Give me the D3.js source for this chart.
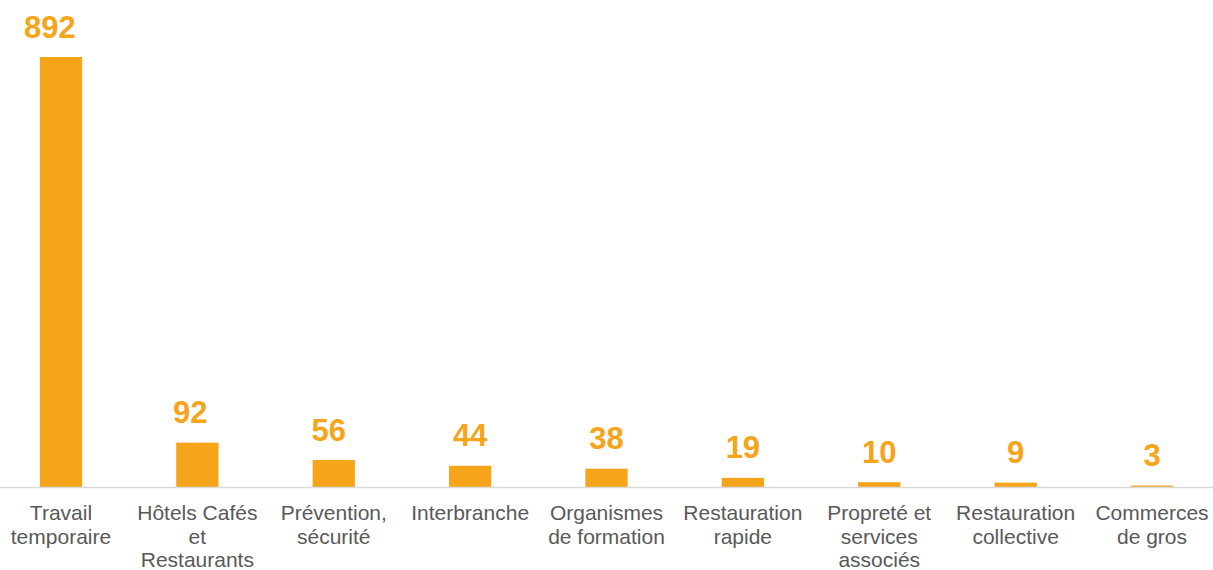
<!DOCTYPE html>
<html>
<head>
<meta charset="utf-8">
<script src="https://cdn.jsdelivr.net/npm/d3@7"></script>
<style>
  html, body { margin: 0; padding: 0; background: #fff; }
  svg { display: block; }
</style>
</head>
<body>
<svg id="chart" width="1213" height="570"></svg>
<script>
const categories = [
  "Travail\ntemporaire",
  "Hôtels Cafés\net\nRestaurants",
  "Prévention,\nsécurité",
  "Interbranche",
  "Organismes\nde formation",
  "Restauration\nrapide",
  "Propreté et\nservices\nassociés",
  "Restauration\ncollective",
  "Commerces\nde gros"
];
const values = [892, 92, 56, 44, 38, 19, 10, 9, 3];

// layout: horizontal nudge of some value labels (as in the original)
const labelNudge = [-11, -7, -5, 0, 0, 0, 0, 0, 0];

const W = 1213, H = 570;
const baseY = 487;
const svg = d3.select("#chart");

const x = d3.scaleBand()
  .domain(categories)
  .range([-7.2, 1220.2])
  .paddingInner(0.69)
  .paddingOuter(0.345);

const y = d3.scaleLinear()
  .domain([0, 892])
  .range([baseY, 57]);

const barColor = "#F6A41A";

svg.append("g").selectAll("rect")
  .data(values)
  .join("rect")
  .attr("x", (d, i) => x(categories[i]))
  .attr("width", x.bandwidth())
  .attr("y", d => y(d))
  .attr("height", d => baseY - y(d))
  .attr("fill", barColor);

svg.append("g").selectAll("text")
  .data(values)
  .join("text")
  .attr("x", (d, i) => x(categories[i]) + x.bandwidth() / 2 + labelNudge[i])
  .attr("y", d => y(d) - 19.5)
  .attr("text-anchor", "middle")
  .attr("font-family", "Liberation Sans, Arial, sans-serif")
  .attr("font-weight", "bold")
  .attr("font-size", 31)
  .attr("fill", barColor)
  .text(d => d);

// axis line
svg.append("line")
  .attr("x1", 0).attr("x2", W)
  .attr("y1", baseY + 0.5).attr("y2", baseY + 0.5)
  .attr("stroke", "#d9d9d9")
  .attr("stroke-width", 1.5);

// category labels
const lab = svg.append("g").selectAll("text")
  .data(categories)
  .join("text")
  .attr("x", d => x(d) + x.bandwidth() / 2)
  .attr("y", 520)
  .attr("text-anchor", "middle")
  .attr("font-family", "Liberation Sans, Arial, sans-serif")
  .attr("font-size", 21)
  .attr("fill", "#595959");

lab.each(function(d) {
  const t = d3.select(this);
  const cx = +t.attr("x");
  d.split("\n").forEach((line, i) => {
    t.append("tspan")
      .attr("x", cx)
      .attr("dy", i === 0 ? 0 : 23.5)
      .text(line);
  });
});
</script>
</body>
</html>
